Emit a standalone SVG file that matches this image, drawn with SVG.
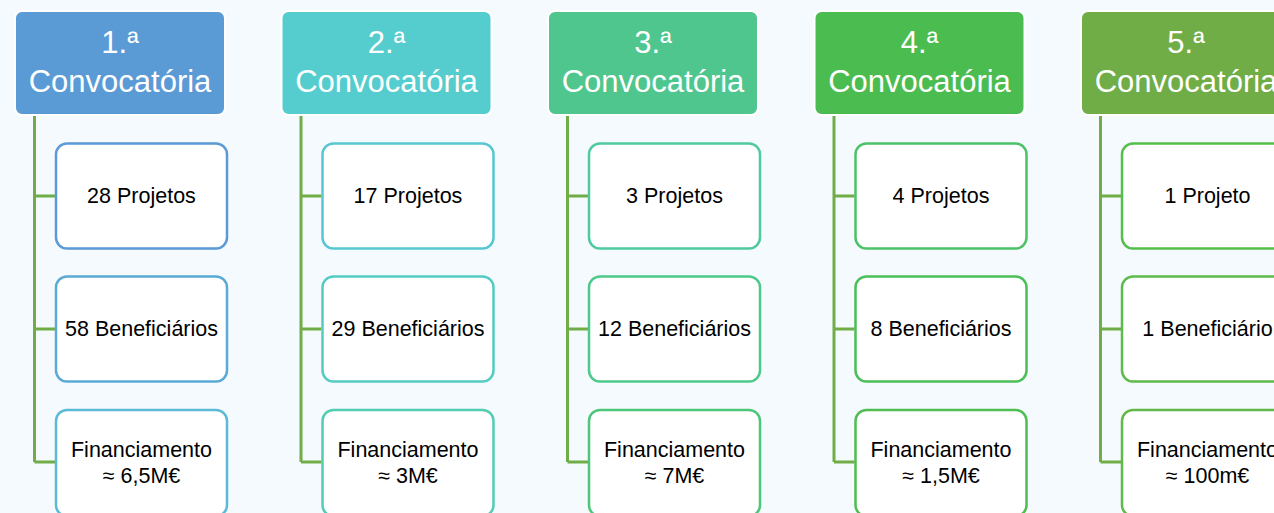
<svg xmlns="http://www.w3.org/2000/svg" width="1274" height="513" viewBox="0 0 1274 513">
<style>
.bg{fill:#F5FAFE}
.hdr{stroke:#FFFFFF;stroke-width:2}
.ht{font-family:"Liberation Sans",Arial,sans-serif;font-size:31px;fill:#FFFFFF;text-anchor:middle}
.box{fill:#FFFFFF;stroke-width:2.5}
.bt{font-family:"Liberation Sans",Arial,sans-serif;font-size:21.5px;fill:#000000;text-anchor:middle}
.con{fill:none;stroke:#70AD47;stroke-width:3}
</style>
<rect class="bg" x="0" y="0" width="1274" height="513"/>
<g id="connectors">
<path class="con" d="M34.5,114 V462 M34.5,196 H55 M34.5,329 H55 M34.5,462 H55"/>
<path class="con" d="M301,114 V462 M301,196 H321.5 M301,329 H321.5 M301,462 H321.5"/>
<path class="con" d="M567.5,114 V462 M567.5,196 H588 M567.5,329 H588 M567.5,462 H588"/>
<path class="con" d="M834,114 V462 M834,196 H854.5 M834,329 H854.5 M834,462 H854.5"/>
<path class="con" d="M1100.5,114 V462 M1100.5,196 H1121 M1100.5,329 H1121 M1100.5,462 H1121"/>
</g>
<g id="h1"><rect class="hdr" x="15" y="11" width="210" height="104" rx="7" fill="#5B9BD5"/><text class="ht" x="120" y="53">1.ª</text><text class="ht" x="120" y="92">Convocatória</text></g>
<g id="h2"><rect class="hdr" x="281.5" y="11" width="210" height="104" rx="7" fill="#55CDCE"/><text class="ht" x="386.5" y="53">2.ª</text><text class="ht" x="386.5" y="92">Convocatória</text></g>
<g id="h3"><rect class="hdr" x="548" y="11" width="210" height="104" rx="7" fill="#4FC68E"/><text class="ht" x="653" y="53">3.ª</text><text class="ht" x="653" y="92">Convocatória</text></g>
<g id="h4"><rect class="hdr" x="814.5" y="11" width="210" height="104" rx="7" fill="#4BBC50"/><text class="ht" x="919.5" y="53">4.ª</text><text class="ht" x="919.5" y="92">Convocatória</text></g>
<g id="h5"><rect class="hdr" x="1081" y="11" width="210" height="104" rx="7" fill="#70AD47"/><text class="ht" x="1186" y="53">5.ª</text><text class="ht" x="1186" y="92">Convocatória</text></g>

<g id="c1b1"><rect class="box" x="56" y="143.5" width="171" height="105" rx="11" stroke="#5B9BD5"/><text class="bt" x="141.5" y="203">28 Projetos</text></g>
<g id="c1b2"><rect class="box" x="56" y="276.5" width="171" height="105" rx="11" stroke="#5AAAD6"/><text class="bt" x="141.5" y="336">58 Beneficiários</text></g>
<g id="c1b3"><rect class="box" x="56" y="410" width="171" height="106" rx="11" stroke="#5BBAD6"/><text class="bt" x="141.5" y="457">Financiamento</text><text class="bt" x="141.5" y="483">≈ 6,5M€</text></g>

<g id="c2b1"><rect class="box" x="322.5" y="143.5" width="171" height="105" rx="11" stroke="#56C7D3"/><text class="bt" x="408" y="203">17 Projetos</text></g>
<g id="c2b2"><rect class="box" x="322.5" y="276.5" width="171" height="105" rx="11" stroke="#54CBC3"/><text class="bt" x="408" y="336">29 Beneficiários</text></g>
<g id="c2b3"><rect class="box" x="322.5" y="410" width="171" height="106" rx="11" stroke="#52CCB2"/><text class="bt" x="408" y="457">Financiamento</text><text class="bt" x="408" y="483">≈ 3M€</text></g>

<g id="c3b1"><rect class="box" x="589" y="143.5" width="171" height="105" rx="11" stroke="#4FCA9E"/><text class="bt" x="674.5" y="203">3 Projetos</text></g>
<g id="c3b2"><rect class="box" x="589" y="276.5" width="171" height="105" rx="11" stroke="#4EC98C"/><text class="bt" x="674.5" y="336">12 Beneficiários</text></g>
<g id="c3b3"><rect class="box" x="589" y="410" width="171" height="106" rx="11" stroke="#4DC67A"/><text class="bt" x="674.5" y="457">Financiamento</text><text class="bt" x="674.5" y="483">≈ 7M€</text></g>

<g id="c4b1"><rect class="box" x="855.5" y="143.5" width="171" height="105" rx="11" stroke="#4CC266"/><text class="bt" x="941" y="203">4 Projetos</text></g>
<g id="c4b2"><rect class="box" x="855.5" y="276.5" width="171" height="105" rx="11" stroke="#4BBF57"/><text class="bt" x="941" y="336">8 Beneficiários</text></g>
<g id="c4b3"><rect class="box" x="855.5" y="410" width="171" height="106" rx="11" stroke="#4DBE4F"/><text class="bt" x="941" y="457">Financiamento</text><text class="bt" x="941" y="483">≈ 1,5M€</text></g>

<g id="c5b1"><rect class="box" x="1122" y="143.5" width="171" height="105" rx="11" stroke="#56BE4C"/><text class="bt" x="1207.5" y="203">1 Projeto</text></g>
<g id="c5b2"><rect class="box" x="1122" y="276.5" width="171" height="105" rx="11" stroke="#5DBB4B"/><text class="bt" x="1207.5" y="336">1 Beneficiário</text></g>
<g id="c5b3"><rect class="box" x="1122" y="410" width="171" height="106" rx="11" stroke="#62B84A"/><text class="bt" x="1207.5" y="457">Financiamento</text><text class="bt" x="1207.5" y="483">≈ 100m€</text></g>
</svg>
